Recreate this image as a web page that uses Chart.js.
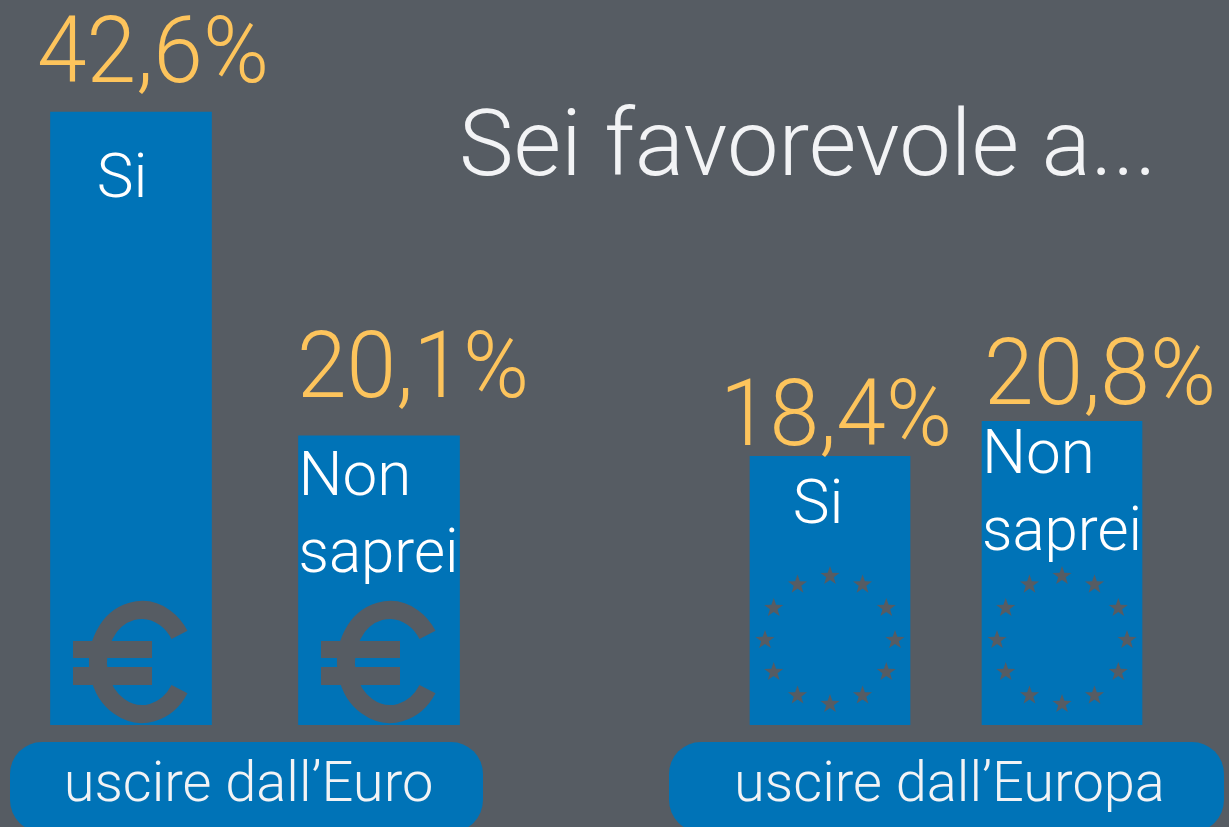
<!DOCTYPE html>
<html lang="it">
<head>
<meta charset="UTF-8">
<title>Sei favorevole a...</title>
<script src="https://cdn.jsdelivr.net/npm/chart.js"></script>
<style>
    html, body { margin: 0; padding: 0; }
    body {
        position: relative;
        width: 1229px;
        height: 827px;
        overflow: hidden;
        background: #565c63;
        font-family: "Roboto", sans-serif;
        font-weight: 300;
    }
    canvas { position: absolute; top: 0; }
    #chartEuro { left: 0; }
    #chartEuropa { left: 620px; }
    .title {
        position: absolute;
        left: 459px;
        top: 92px;
        font-size: 92px;
        line-height: 104px;
        color: #f2f3f5;
        white-space: nowrap;
    }
    .pill {
        position: absolute;
        top: 742px;
        height: 90px;
        border-radius: 32px;
        background: #0073b7;
        color: #f2f3f5;
        font-size: 56px;
        line-height: 80px;
        text-align: center;
        white-space: nowrap;
    }
    #pillEuro { left: 10px; width: 469px; padding-left: 4px; }
    #pillEuropa { left: 669px; width: 549px; padding-left: 6px; }
</style>
</head>
<body>
<canvas id="chartEuro" width="600" height="730"></canvas>
<canvas id="chartEuropa" width="609" height="730"></canvas>
<div class="title" id="title"></div>
<div class="pill" id="pillEuro"></div>
<div class="pill" id="pillEuropa"></div>

<script>
    // Values as printed on the picture
    const titleText = 'Sei favorevole a...';
    const categoriesEuro = ['Si', 'Non saprei'];
    const valuesEuro = [42.6, 20.1];
    const groupEuro = 'uscire dall’Euro';
    const categoriesEuropa = ['Si', 'Non saprei'];
    const valuesEuropa = [18.4, 20.8];
    const groupEuropa = 'uscire dall’Europa';

    const BLUE = '#0073b7';
    const GREY = '#565c63';
    const YELLOW = '#fdc45c';
    const FONT = '"Roboto", sans-serif';

    document.getElementById('title').textContent = titleText;
    document.getElementById('pillEuro').textContent = groupEuro;
    document.getElementById('pillEuropa').textContent = groupEuropa;

    function drawEuro(ctx, cx, base) {
        // C shape plus the two bars, placed from the bar centre and base
        ctx.save();
        ctx.strokeStyle = GREY;
        ctx.fillStyle = GREY;
        ctx.lineWidth = 18;
        ctx.beginPath();
        ctx.ellipse(cx + 11, base - 63, 44, 52, 0, 0.55, Math.PI * 2 - 0.55);
        ctx.stroke();
        ctx.fillRect(cx - 58, base - 84, 79, 17);
        ctx.fillRect(cx - 58, base - 58, 79, 18);
        ctx.restore();
    }

    function drawStars(ctx, cx, base) {
        ctx.save();
        ctx.fillStyle = GREY;
        for (let i = 0; i < 12; i++) {
            const a = i * Math.PI / 6;
            const sx = cx + Math.sin(a) * 65;
            const sy = base - 85 - Math.cos(a) * 64;
            ctx.beginPath();
            for (let k = 0; k < 10; k++) {
                const r = k % 2 === 0 ? 10 : 4;
                const b = k * Math.PI / 5;
                ctx.lineTo(sx + Math.sin(b) * r, sy - Math.cos(b) * r);
            }
            ctx.closePath();
            ctx.fill();
        }
        ctx.restore();
    }

    // Value above each bar, category inside it, symbol at the bottom
    const barDecor = {
        id: 'barDecor',
        afterDatasetsDraw(chart, args, opts) {
            const ctx = chart.ctx;
            const meta = chart.getDatasetMeta(0);
            meta.data.forEach(function(bar, i) {
                const base = bar.base;
                const value = chart.data.datasets[0].data[i];
                const text = value.toFixed(1).replace('.', ',') + '%';
                if (opts.symbol === 'euro') drawEuro(ctx, bar.x, base);
                else drawStars(ctx, bar.x, base);

                ctx.save();
                ctx.textBaseline = 'alphabetic';
                ctx.textAlign = 'center';
                ctx.fillStyle = YELLOW;
                ctx.font = '300 92px ' + FONT;
                ctx.fillText(text, bar.x + opts.valueDx[i], bar.y - opts.valueDy[i], 232);

                ctx.fillStyle = '#ffffff';
                ctx.font = '300 62px ' + FONT;
                const words = chart.data.labels[i].split(' ');
                if (words.length === 1) {
                    ctx.fillText(words[0], bar.x + opts.labelDx, bar.y + opts.labelDy[i]);
                } else {
                    ctx.textAlign = 'left';
                    const left = bar.x - bar.width / 2;
                    words.forEach(function(w, n) {
                        ctx.fillText(w, left, bar.y + opts.labelDy[i] + n * 77, 160);
                    });
                }
                ctx.restore();
            });
        }
    };

    function makeChart(id, categories, values, yMax, padding, decor) {
        return new Chart(document.getElementById(id), {
            type: 'bar',
            data: {
                labels: categories,
                datasets: [{
                    data: values,
                    backgroundColor: BLUE,
                    barThickness: decor.barWidth,
                    borderWidth: 0
                }]
            },
            options: {
                responsive: false,
                animation: false,
                layout: { padding: padding },
                scales: {
                    x: { display: false },
                    y: { display: false, min: 0, max: yMax }
                },
                plugins: {
                    legend: { display: false },
                    tooltip: { enabled: false },
                    title: { display: false },
                    barDecor: decor
                }
            },
            plugins: [barDecor]
        });
    }

    makeChart('chartEuro', categoriesEuro, valuesEuro, 50.4,
        { left: 7, right: 97, top: 0, bottom: 5 },
        { symbol: 'euro', barWidth: 161, valueDx: [22, 34], valueDy: [30, 39], labelDx: -9, labelDy: [85, 59] });

    makeChart('chartEuropa', categoriesEuropa, valuesEuropa, 49.66,
        { left: 94, right: 51, top: 0, bottom: 5 },
        { symbol: 'stars', barWidth: 160, valueDx: [6, 38], valueDy: [11, 17], labelDx: -12, labelDy: [67, 52] });
</script>
</body>
</html>
